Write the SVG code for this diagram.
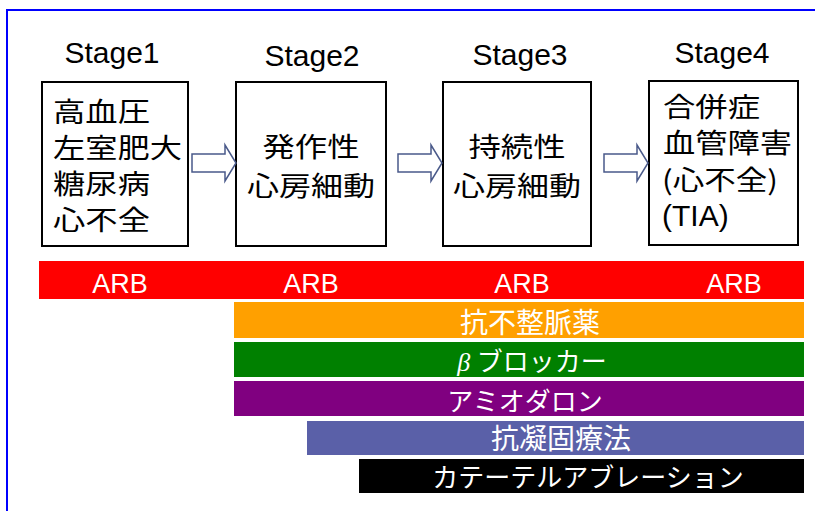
<svg xmlns="http://www.w3.org/2000/svg" width="815" height="511" viewBox="0 0 815 511">
<style>
.lat{font-family:"Liberation Sans",Arial,sans-serif}
.jp{font-family:"Noto Sans CJK JP","Noto Sans CJK SC",sans-serif}
.stage{font-size:30px;fill:#000;text-anchor:middle}
.box{fill:#fff;stroke:#000;stroke-width:2}
.bt{font-size:27px;fill:#000}
.arr{fill:#fff;stroke:#4a5a8a;stroke-width:1.5;stroke-linejoin:miter}
.wt{fill:#fff;text-anchor:middle}
</style>
<rect x="0" y="0" width="815" height="511" fill="#fff"/>
<path d="M7,511 V10 H815" fill="none" stroke="#0000ff" stroke-width="2"/>

<g id="stage1">
<text class="lat stage" x="112" y="63">Stage1</text>
<rect class="box" x="42" y="82" width="146" height="164"/>
<text class="jp bt" x="53" y="122" textLength="97" lengthAdjust="spacingAndGlyphs">高血圧</text>
<text class="jp bt" x="53" y="158" textLength="129" lengthAdjust="spacingAndGlyphs">左室肥大</text>
<text class="jp bt" x="53" y="194" textLength="97" lengthAdjust="spacingAndGlyphs">糖尿病</text>
<text class="jp bt" x="53" y="230" textLength="97" lengthAdjust="spacingAndGlyphs">心不全</text>
</g>
<g id="stage2">
<text class="lat stage" x="312" y="66">Stage2</text>
<rect class="box" x="236" y="82" width="150" height="164"/>
<text class="jp bt" x="311" y="157" text-anchor="middle" textLength="97" lengthAdjust="spacingAndGlyphs">発作性</text>
<text class="jp bt" x="311" y="196" text-anchor="middle" textLength="128" lengthAdjust="spacingAndGlyphs">心房細動</text>
</g>
<g id="stage3">
<text class="lat stage" x="520" y="65">Stage3</text>
<rect class="box" x="443" y="82" width="148" height="164"/>
<text class="jp bt" x="517" y="157" text-anchor="middle" textLength="97" lengthAdjust="spacingAndGlyphs">持続性</text>
<text class="jp bt" x="517" y="196" text-anchor="middle" textLength="128" lengthAdjust="spacingAndGlyphs">心房細動</text>
</g>
<g id="stage4">
<text class="lat stage" x="722" y="63">Stage4</text>
<rect class="box" x="649" y="81" width="149" height="164"/>
<text class="jp bt" x="663" y="117" textLength="97" lengthAdjust="spacingAndGlyphs">合併症</text>
<text class="jp bt" x="663" y="153" textLength="129" lengthAdjust="spacingAndGlyphs">血管障害</text>
<text class="jp bt" x="662" y="190" textLength="116" lengthAdjust="spacingAndGlyphs">(心不全)</text>
<text class="lat" font-size="30" x="662" y="226">(TIA)</text>
</g>

<g id="connectors">
<path class="arr" d="M192,154 H225 V145 L236,163 L225,181 V172 H192 Z"/>
<path class="arr" d="M398,154 H431 V145 L442,163 L431,181 V172 H398 Z"/>
<path class="arr" d="M604,154 H637 V145 L648,163 L637,181 V172 H604 Z"/>
</g>

<g id="arb">
<rect x="39" y="261" width="765" height="38" fill="#ff0000"/>
<text class="lat wt" font-size="27" x="120" y="293">ARB</text>
<text class="lat wt" font-size="27" x="311" y="293">ARB</text>
<text class="lat wt" font-size="27" x="522" y="293">ARB</text>
<text class="lat wt" font-size="27" x="734" y="293">ARB</text>
</g>
<g id="antiarrhythmic">
<rect x="234" y="302" width="570" height="36" fill="#ffa000"/>
<text class="jp wt" font-size="28" x="530" y="333">抗不整脈薬</text>
</g>
<g id="beta">
<rect x="234" y="342" width="570" height="35" fill="#008000"/>
<text class="jp wt" font-size="26" x="532" y="371"><tspan font-family="Liberation Serif,serif" font-style="italic">β </tspan>ブロッカー</text>
</g>
<g id="amiodarone">
<rect x="234" y="381" width="570" height="35" fill="#800080"/>
<text class="jp wt" font-size="26" x="525" y="411">アミオダロン</text>
</g>
<g id="anticoag">
<rect x="307" y="421" width="497" height="34" fill="#5a60a8"/>
<text class="jp wt" font-size="28" x="561" y="449">抗凝固療法</text>
</g>
<g id="ablation">
<rect x="359" y="459" width="445" height="34" fill="#000000"/>
<text class="jp wt" font-size="26" x="588" y="487">カテーテルアブレーション</text>
</g>
</svg>
